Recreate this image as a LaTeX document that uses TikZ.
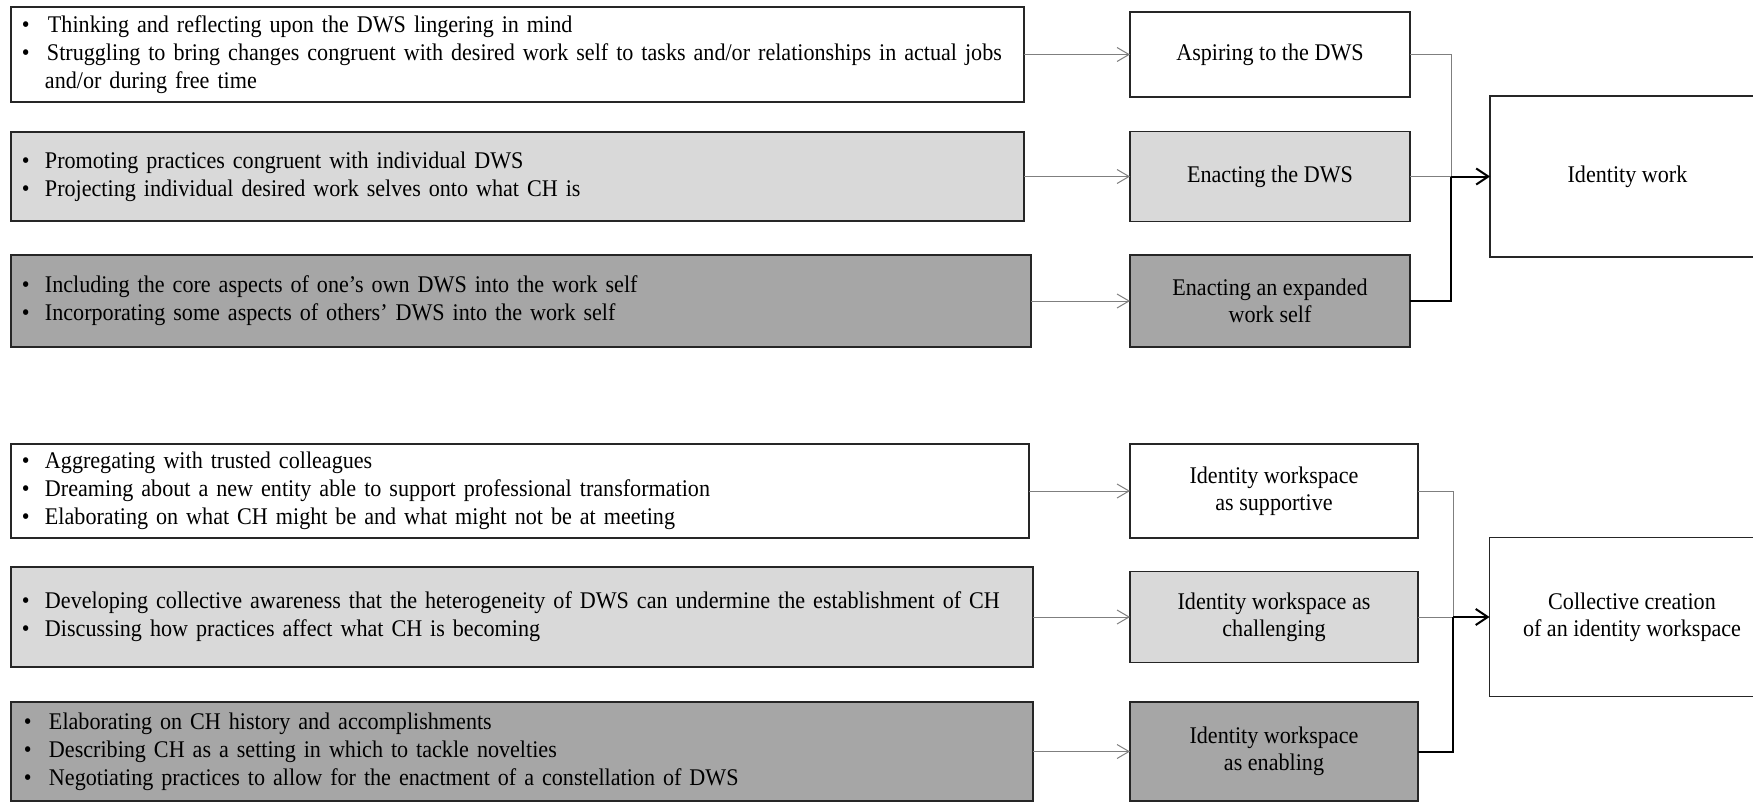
\documentclass[tikz,border=0pt]{standalone}
\usepackage{fontspec}
\setmainfont[FakeStretch=0.925]{Liberation Serif}
\usetikzlibrary{arrows.meta}
\definecolor{lightfill}{HTML}{D9D9D9}
\definecolor{darkfill}{HTML}{A6A6A6}
\definecolor{linegray}{HTML}{7F7F7F}
\definecolor{border}{HTML}{262626}
\newcommand{\bul}{\makebox[23bp][l]{\textbullet}}
\newcommand{\hang}{\hspace*{23bp}}
\begin{document}
\begin{tikzpicture}[x=1bp,y=-1bp,
  box/.style={draw=border, line width=1.5bp, outer sep=0pt},
  lbox/.style={box, align=left, inner xsep=11bp, inner ysep=0pt,
     font=\fontsize{24}{28}\selectfont},
  mbox/.style={box, align=center, inner sep=0pt,
     font=\fontsize{24}{27}\selectfont},
  white/.style={fill=white},
  light/.style={fill=lightfill},
  dark/.style={fill=darkfill},
  thinarrow/.style={draw=linegray, line width=1bp, -{Straight Barb[length=12bp,width=14bp]}},
  thinline/.style={draw=linegray, line width=1bp},
  thickline/.style={draw=black, line width=2bp},
  thickarrow/.style={draw=black, line width=2bp, -{Straight Barb[length=12bp,width=16bp]}}
]
\useasboundingbox (0,0) rectangle (1753,802);

% ---- top group: left boxes
\node[lbox, white, text width=991bp, minimum height=95bp] (a1) at (517.5,54.5)
 {\bul\hspace{3bp}Thinking and reflecting upon the DWS lingering in mind\\
  \bul\hspace{2bp}Struggling to bring changes congruent with desired work self to tasks and/or relationships in actual jobs\\
  \hang and/or during free time};
\node[lbox, light, text width=991bp, minimum height=89bp] (a2) at (517.5,176.5)
 {\bul Promoting practices congruent with individual DWS\\
  \bul Projecting individual desired work selves onto what CH is};
\node[lbox, dark, text width=998bp, minimum height=92bp] (a3) at (521,301)
 {\bul Including the core aspects of one’s own DWS into the work self\\
  \bul Incorporating some aspects of others’ DWS into the work self};

% ---- top group: middle boxes
\node[mbox, white, minimum width=280bp, minimum height=85bp] (m1) at (1270,54.5) {Aspiring to the DWS};
\node[mbox, light, minimum width=280bp, minimum height=90bp] (m2) at (1270,176.5) {Enacting the DWS};
\node[mbox, dark, minimum width=280bp, minimum height=92bp] (m3) at (1270,301) {Enacting an expanded\\work self};

\node[mbox, white, minimum width=275bp, minimum height=161bp] (r1) at (1627.5,176.5) {Identity work};

% ---- bottom group: left boxes
\node[lbox, white, text width=996bp, minimum height=94bp] (b1) at (520,491)
 {\bul Aggregating with trusted colleagues\\
  \bul Dreaming about a new entity able to support professional transformation\\
  \bul Elaborating on what CH might be and what might not be at meeting};
\node[lbox, light, text width=1000bp, minimum height=100bp] (b2) at (522,617)
 {\bul Developing collective awareness that the heterogeneity of DWS can undermine the establishment of CH\\
  \bul Discussing how practices affect what CH is becoming};
\node[lbox, dark, text width=1000bp, minimum height=99bp] (b3) at (522,751.5)
 {\hspace*{2bp}\bul\hspace{2bp}Elaborating on CH history and accomplishments\\
  \hspace*{2bp}\bul\hspace{2bp}Describing CH as a setting in which to tackle novelties\\
  \hspace*{2bp}\bul\hspace{2bp}Negotiating practices to allow for the enactment of a constellation of DWS};

% ---- bottom group: middle boxes
\node[mbox, white, minimum width=288bp, minimum height=94bp] (n1) at (1274,491) {Identity workspace\\as supportive};
\node[mbox, light, minimum width=288bp, minimum height=91bp] (n2) at (1274,617) {Identity workspace as\\challenging};
\node[mbox, dark, minimum width=288bp, minimum height=99bp] (n3) at (1274,751.5) {Identity workspace\\as enabling};

\node[mbox, white, minimum width=285bp, minimum height=159bp] (r2) at (1632,617) {Collective creation\\of an identity workspace};

% ---- connectors
\draw[thinarrow] (a1) -- (m1);
\draw[thinarrow] (a2) -- (m2);
\draw[thinarrow] (a3) -- (m3);
\draw[thinarrow] (b1) -- (n1);
\draw[thinarrow] (b2) -- (n2);
\draw[thinarrow] (b3) -- (n3);

\coordinate (j1) at (1451,176.5);
\draw[thinline] (m1.east) -| (j1);
\draw[thinline] (m2.east) -- (j1);
\draw[thickline] (m3.east) -| (j1);
\draw[thickarrow] (j1) -- (r1);

\coordinate (j2) at (1453,617);
\draw[thinline] (n1.east) -| (j2);
\draw[thinline] (n2.east) -- (j2);
\draw[thickline] (n3.east) -| (j2);
\draw[thickarrow] (j2) -- (r2);
\end{tikzpicture}
\end{document}
